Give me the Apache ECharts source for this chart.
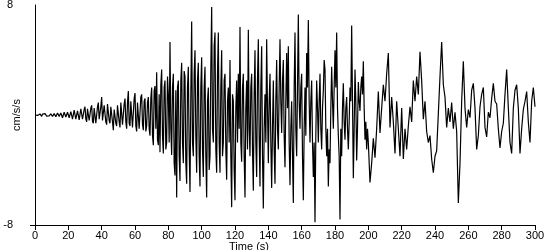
<!DOCTYPE html>
<html>
<head>
<meta charset="utf-8">
<script src="https://cdn.jsdelivr.net/npm/echarts@6/dist/echarts.min.js"></script>
<style>
html,body{margin:0;padding:0;background:#fff;}
#c{width:550px;height:250px;}
</style>
</head>
<body>
<div id="c"></div>
<script>
// Acceleration (cm/s/s).
// First part: one value every 0.5 s from 0 s to 199.5 s.
const earlyStep = 0.5;
const accelEarly = [
  0, 0.03, 0.05, -0.03, -0.05, 0.04, 0.08, -0.06, -0.1, 0.06, 0.05, -0.05, 0.1, 0.02, -0.08, 0.06, 0.05, -0.07, -0.1, 0.08,
  0.1, -0.1, -0.15, 0.1, 0.12, -0.12, -0.1, 0.15, 0.15, -0.1, -0.2, 0.15, 0.2, -0.2, -0.15, 0.2, 0.25, -0.15, -0.2, 0.2,
  0.2, -0.2, -0.3, 0.25, 0.3, -0.3, -0.2, 0.35, 0.25, -0.3, -0.35, 0.3, 0.4, -0.35, -0.3, 0.45, 0.5, -0.3, -0.4, 0.4,
  0.6, -0.3, -0.5, 0.45, 0.5, -0.4, -0.3, 0.5, 0.7, -0.45, -0.6, 0.5, 0.4, -0.6, -0.5, 0.6, 0.9, -0.3, -0.4, 0.6,
  1.3, -0.4, -0.5, 0.7, 0.6, -0.5, -0.7, 0.8, 0.9, -0.4, -0.6, 0.6, 0.7, -0.5, -1.1, 0.4, 0.5, -0.6, -0.8, 0.7,
  0.8, -0.5, -0.9, 0.9, 1.0, -0.7, -0.6, 0.8, 1.2, -0.5, -1.0, 0.9, 1.75, -0.6, -0.8, 1.0, 1.1, -0.9, -1.0, 1.2,
  1.6, -0.8, -1.2, 0.9, 1.0, -1.0, -0.9, 1.3, 1.5, -0.7, -1.1, 1.0, 1.2, -1.2, -0.8, 0.9, 1.3, -1.0, -1.5, 1.2,
  2.0, -1.5, -2.2, 1.8, 2.1, -1.0, 3.1, -1.8, -2.2, 1.5, -2.7, 2.2, 3.3, -1.5, -2.8, 2.0, 2.5, -2.5, -2.0, 2.8,
  1.5, -2.0, 5.3, -1.0, -2.9, 2.0, 3.0, -3.5, -4.4, 1.8, -6.0, 2.0, 2.5, -3.0, -4.8, 2.5, 3.8, -2.0, -3.5, 3.2,
  2.8, -3.5, -5.0, 2.0, 3.5, -2.5, -5.6, 1.5, 6.8, -2.0, -3.0, 3.0, 4.7, -1.5, -4.2, 2.5, 3.8, -3.0, -5.2, 2.0,
  4.2, -2.5, -4.5, 2.0, 3.5, -3.0, -6.0, 1.0, 2.0, -4.0, -3.0, 3.5, 7.85, -1.0, -2.0, 5.0, 6.0, -2.5, -4.2, 3.0,
  6.0, -2.0, -4.2, 2.0, 4.7, -3.0, -2.0, 2.5, 3.0, -2.5, -4.7, 1.0, 2.0, -2.0, 4.0, -3.0, -6.7, 1.5, 1.0, -4.0,
  -6.2, 0.5, 2.5, -2.0, 3.0, -1.0, 6.4, -2.0, -3.4, 2.0, 3.0, -3.0, -6.0, 0.5, 2.5, -2.5, 6.2, -1.0, -3.0, 2.0,
  3.0, -2.5, -5.5, 1.5, 4.7, -2.0, -4.5, 2.5, 5.5, -1.5, -5.2, 2.0, 5.0, -3.0, -6.8, -1.0, 1.5, -2.0, 5.5, 0.5,
  -3.5, 1.0, 3.0, -2.0, -5.3, -1.0, 2.5, -2.5, -5.0, 1.0, 4.0, -1.0, -2.5, 2.0, 5.5, 1.0, -1.3, 2.5, 4.0, -1.5,
  -3.8, 1.0, 4.5, 0.5, 5.0, -2.0, -5.1, -1.0, 1.0, -3.0, -6.4, 2.0, 6.0, -1.0, -3.0, 2.0, 7.3, 1.0, -1.0, 2.0,
  3.0, -3.0, -6.2, -1.0, 2.0, -1.5, 4.5, 2.0, 6.9, 1.0, -2.0, 1.0, 2.5, -2.0, -4.5, -2.0, -7.8, -1.5, 2.5, 0.5,
  -2.0, 1.0, 3.0, -1.0, -2.5, 0.5, 1.8, 4.0, 3.3, -1.0, -3.0, -1.0, -5.2, -2.5, -3.5, 0.5, 3.5, 1.0, -1.0, 2.0,
  4.7, 2.0, 6.0, 0.5, -1.5, -3.0, -7.6, -1.0, -3.0, 0.5, 2.3, -0.5, -1.8, 0.5, 1.3, -1.0, -2.5, -0.5, 2.0, 1.0,
  6.5, 1.0, -4.6, -1.0, 3.3, 1.0, -3.3, -1.0, 2.4, 1.0, 0.3, 2.0, 2.8, 1.5, 3.9, 0.5, -1.8, -0.5, -2.5, -1.0
];
// Second part: one value every 1 s from 200 s to 300 s.
const lateStart = 200;
const lateStep = 1;
const accelLate = [
  -2.0, -4.9, -3.5, -1.7, -3.1, -1.0, 1.7, -1.3, 0.5, 2.2,
  1.0, 3.0, 4.5, -0.9, 1.3, -0.5, -2.8, 1.0, -1.0, -3.0,
  0.5, -3.2, -1.0, -2.5, -0.8, 0.6, -0.5, 2.5, 1.0, 2.8,
  1.5, 4.6, 2.5, -0.3, 1.0, -1.2, -2.0, -1.5, -3.2, -4.2,
  -3.0, -2.6, 0.1, 2.8, 5.3, 2.2, 1.3, -0.9, 0.5, -0.5,
  0.9, -1.0, 0.2, -1.2, -6.4, -3.5, 1.0, 3.9, 0.5, -0.9,
  0.4, -0.2, 1.8, 2.3, 0.5, -2.5, -1.5, 0.6, 1.5, 2.0,
  -0.9, -1.6, 0.2, -0.2, 1.2, 2.3, 1.0, 0.8, -1.0, -2.4,
  -1.2, -0.6, 1.5, 3.3, 0.5, -2.0, -2.8, 0.5, 1.8, 2.2,
  0.5, -2.8, -1.0, 0.4, 1.0, 1.7, -0.5, -2.0, 1.0, 2.0, 0.6
];
const xTickLabels = [0, 20, 40, 60, 80, 100, 120, 140, 160, 180, 200, 220, 240, 260, 280, 300];
const yTickLabels = [-8, 8];
const xTitle = 'Time (s)';
const yTitle = 'cm/s/s';

const seriesData = accelEarly.map((v, i) => [i * earlyStep, v])
  .concat(accelLate.map((v, i) => [lateStart + i * lateStep, v]));
const font = 'Liberation Sans';

const chart = echarts.init(document.getElementById('c'), null, {renderer: 'canvas'});
chart.setOption({
  animation: false,
  backgroundColor: '#ffffff',
  grid: {left: 35, right: 15, top: 5, bottom: 25, containLabel: false, outerBoundsMode: 'none'},
  xAxis: {
    type: 'value',
    min: xTickLabels[0],
    max: xTickLabels[xTickLabels.length - 1],
    interval: 20,
    name: xTitle,
    nameLocation: 'middle',
    nameGap: 16,
    nameMoveOverlap: false,
    nameTextStyle: {color: '#000', fontFamily: font, fontSize: 11, padding: [0, 72, 0, 0]},
    axisLine: {onZero: false, lineStyle: {color: '#000', width: 1}},
    axisTick: {show: true, length: 5, lineStyle: {color: '#000'}},
    axisLabel: {color: '#000', fontFamily: font, fontSize: 11, margin: 5},
    splitLine: {show: false}
  },
  yAxis: {
    type: 'value',
    min: yTickLabels[0],
    max: yTickLabels[1],
    interval: 16,
    name: yTitle,
    nameLocation: 'middle',
    nameRotate: 90,
    nameGap: 13,
    nameMoveOverlap: false,
    nameTextStyle: {color: '#000', fontFamily: font, fontSize: 11},
    axisLine: {show: true, lineStyle: {color: '#000', width: 1}},
    axisTick: {show: true, length: 5, customValues: [-8], lineStyle: {color: '#000'}},
    axisLabel: {color: '#000', fontFamily: font, fontSize: 11, margin: 22},
    splitLine: {show: false}
  },
  series: [{
    type: 'line',
    data: seriesData,
    showSymbol: false,
    symbol: 'none',
    lineStyle: {color: '#000', width: 1.2},
    silent: true
  }]
});
</script>
</body>
</html>
